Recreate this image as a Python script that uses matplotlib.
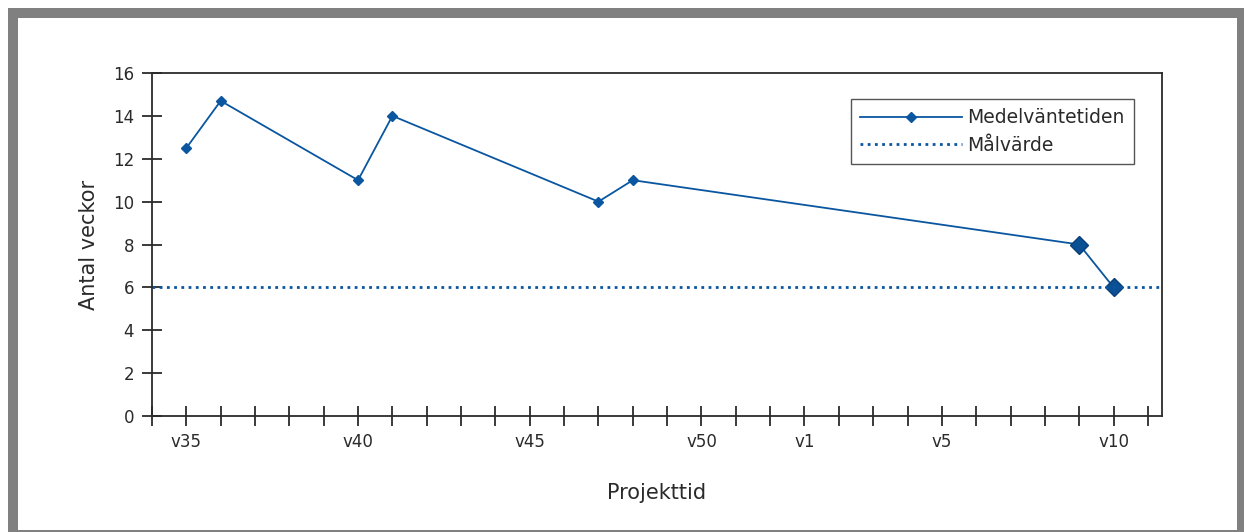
import numpy as np
import matplotlib.pyplot as plt
from matplotlib.patches import Rectangle

# week labels along the project timeline (v35 .. v52, then v1 .. v11)
weeks = [f"v{w}" for w in range(35, 53)] + [f"v{w}" for w in range(1, 12)]
shown_labels = ["v35", "v40", "v45", "v50", "v1", "v5", "v10"]

# measured mean waiting time (weeks)
meas_weeks = ["v35", "v36", "v40", "v41", "v47", "v48", "v9", "v10"]
meas_values = [12.5, 14.7, 11, 14, 10, 11, 8, 6]
big_weeks = ["v9", "v10"]
target = 6

blue = "#0a56a0"
dark = "#2b2b2b"
txt = "#2a2a2a"
W, H = 1244, 532

fig = plt.figure(figsize=(W / 100, H / 100), dpi=100)
fig.patch.set_facecolor("white")

# gray frame around the chart
fig.patches.append(Rectangle((8 / W, 0), 1, 1 - 8 / H, transform=fig.transFigure,
                             facecolor="#808080", edgecolor="none", zorder=-2))
fig.patches.append(Rectangle((18 / W, 2 / H), (1237 - 18) / W, (530 - 18) / H,
                             transform=fig.transFigure, facecolor="white",
                             edgecolor="none", zorder=-1))

ax = fig.add_axes([152 / W, 1 - 416 / H, (1162 - 152) / W, (416 - 73) / H])
ax.set_facecolor("none")

idx = {w: i for i, w in enumerate(weeks)}
xs = [idx[w] for w in meas_weeks]
ax.plot(xs, meas_values, color=blue, lw=1.3, marker="D", ms=5.5, label="Medelväntetiden")
bx = [idx[w] for w in big_weeks]
by = [meas_values[meas_weeks.index(w)] for w in big_weeks]
ax.plot(bx, by, ls="none", marker="D", ms=9, color="#0b4f94", mec="#0a3f78")
ax.axhline(target, color=blue, lw=2, ls=(0, (1, 1.6)), label="Målvärde")

ax.set_xlim(-1, 28.41)
ax.set_ylim(0, 16)
ax.set_xticks(range(-1, 29))
ax.set_xticklabels([""] + [w if w in shown_labels else "" for w in weeks])
ax.set_yticks(np.arange(0, 17, 2))

for s in ax.spines.values():
    s.set_color(dark)
    s.set_linewidth(1.3)
ax.tick_params(axis="both", direction="inout", length=14, width=1.3, color=dark,
               labelsize=12, labelcolor=txt)
ax.tick_params(axis="x", pad=5)
ax.tick_params(axis="y", pad=6)

ax.set_xlabel("Projekttid", fontsize=15, labelpad=23, color=txt)
ax.set_ylabel("Antal veckor", fontsize=15, labelpad=10, color=txt)

leg = ax.legend(loc="upper right", bbox_to_anchor=(1134 / W, 1 - 99 / H),
                bbox_transform=fig.transFigure, fontsize=13.5, frameon=True,
                fancybox=False, handlelength=5.4, handletextpad=0.3,
                borderpad=0.5, labelspacing=0.45, borderaxespad=0)
leg.get_frame().set_edgecolor(dark)
leg.get_frame().set_linewidth(1)
for t in leg.get_texts():
    t.set_color(txt)

fig.savefig("out.png", dpi=100)
